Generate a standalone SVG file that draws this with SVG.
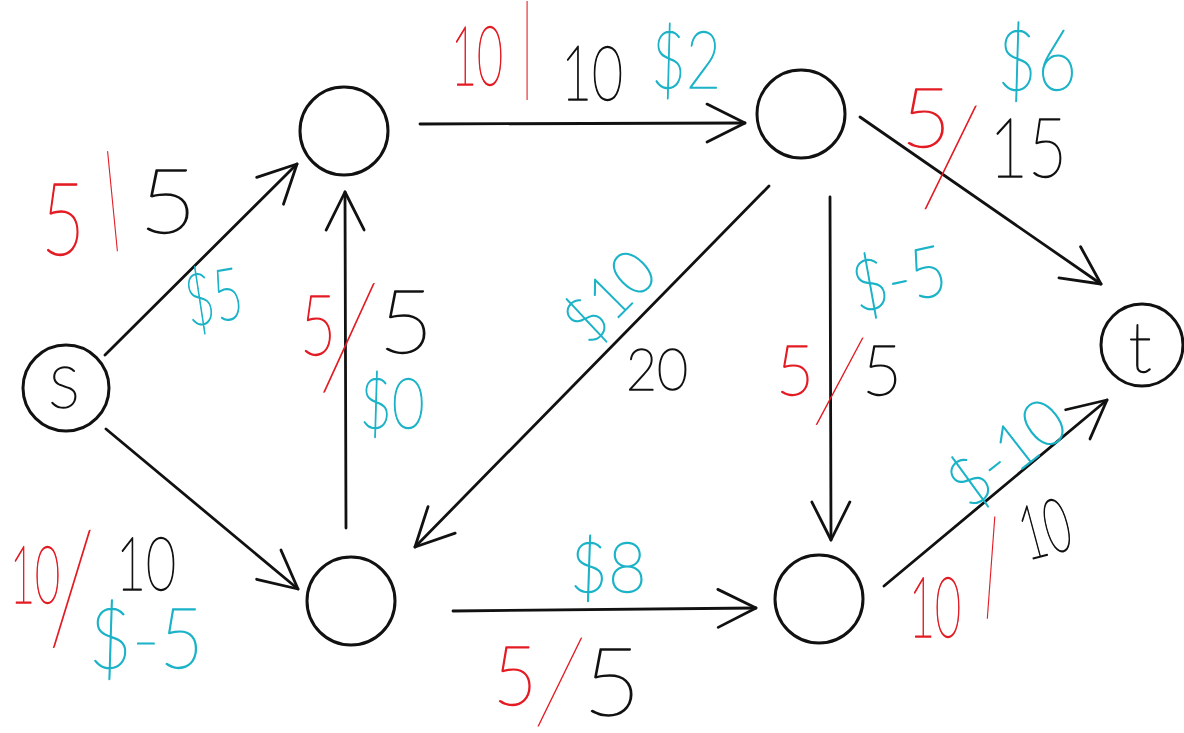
<svg xmlns="http://www.w3.org/2000/svg" width="1184" height="733" viewBox="0 0 1184 733">
<style>
  .node { fill: #ffffff; stroke: #111111; stroke-width: 3; }
  .edge { fill: none; stroke: #111111; stroke-width: 2.8; stroke-linecap: round; }
  .t { font-family: Lato, "Open Sans", "DejaVu Sans", sans-serif; font-weight: 200; text-anchor: middle; stroke-width: 1.4; stroke-linejoin: round; }
  .sl { font-family: Lato, "Open Sans", "DejaVu Sans", sans-serif; font-weight: 200; text-anchor: middle; dominant-baseline: central; }
  .r { fill: #e31b23; stroke: #e31b23; }
  .k { fill: #111111; stroke: #111111; }
  .c { fill: #1cb3c8; stroke: #1cb3c8; }
  .sl.r { stroke: none; }
</style>
<defs>
  <marker id="arr" markerUnits="userSpaceOnUse" markerWidth="60" markerHeight="60" viewBox="-50 -30 60 60" refX="0" refY="0" orient="auto">
    <path d="M -38,-19 L 0,0 L -38,19" fill="none" stroke="#111111" stroke-width="2.8" stroke-linecap="round" stroke-linejoin="round"/>
  </marker>
</defs>
<rect width="1184" height="733" fill="#ffffff"/>

<g id="connectors">
  <line class="edge" x1="105" y1="355" x2="297" y2="164" marker-end="url(#arr)"/>
  <line class="edge" x1="420" y1="124" x2="745" y2="123" marker-end="url(#arr)"/>
  <line class="edge" x1="860" y1="117" x2="1101" y2="284" marker-end="url(#arr)"/>
  <line class="edge" x1="769" y1="186" x2="415" y2="547" marker-end="url(#arr)"/>
  <line class="edge" x1="830" y1="197" x2="831" y2="540" marker-end="url(#arr)"/>
  <line class="edge" x1="346" y1="528" x2="345" y2="192" marker-end="url(#arr)"/>
  <line class="edge" x1="106" y1="429" x2="298" y2="589" marker-end="url(#arr)"/>
  <line class="edge" x1="453" y1="611" x2="756" y2="608" marker-end="url(#arr)"/>
  <line class="edge" x1="884" y1="586" x2="1107" y2="400" marker-end="url(#arr)"/>
</g>

<g id="node-s">
  <circle class="node" cx="66" cy="388" r="43"/>
  <text class="t k" x="64" y="408" font-size="58">S</text>
</g>
<g id="node-a">
  <circle class="node" cx="344" cy="131" r="44"/>
</g>
<g id="node-b">
  <circle class="node" cx="351" cy="601" r="44"/>
</g>
<g id="node-c">
  <circle class="node" cx="801" cy="114" r="44"/>
</g>
<g id="node-d">
  <circle class="node" cx="819" cy="599" r="44"/>
</g>
<g id="node-t">
  <circle class="node" cx="1142" cy="345" r="41"/>
  <text class="t k" x="1140" y="372" font-size="70">t</text>
</g>

<g id="labels">
  <!-- s -> A : 5|5 $5 -->
  <text class="t r" x="63" y="255" font-size="100" textLength="44" lengthAdjust="spacingAndGlyphs">5</text>
  <text class="sl r" font-size="108" transform="translate(111.5,190) rotate(-5.6)">|</text>
  <text class="t k" x="168" y="233" font-size="90" textLength="58" lengthAdjust="spacingAndGlyphs">5</text>
  <text class="t c" x="214" y="322" font-size="72" textLength="57" lengthAdjust="spacingAndGlyphs" transform="rotate(-10 214 300)">$5</text>

  <!-- B -> A : 5/5 $0 -->
  <text class="t r" x="318" y="355" font-size="85" textLength="36" lengthAdjust="spacingAndGlyphs">5</text>
  <text class="sl r" font-size="146" transform="translate(349,331) rotate(1.5)">/</text>
  <text class="t k" x="406" y="353" font-size="88" textLength="55" lengthAdjust="spacingAndGlyphs">5</text>
  <text class="t c" x="392" y="428" font-size="70" textLength="65" lengthAdjust="spacingAndGlyphs">$0</text>

  <!-- A -> C : 10|10 $2 -->
  <text class="t r" x="477" y="85" font-size="83" textLength="52" lengthAdjust="spacingAndGlyphs">10</text>
  <text class="sl r" font-size="106" transform="translate(527,40)">|</text>
  <text class="t k" x="592" y="100" font-size="76" textLength="62" lengthAdjust="spacingAndGlyphs">10</text>
  <text class="t c" x="686" y="88" font-size="80" textLength="70" lengthAdjust="spacingAndGlyphs">$2</text>

  <!-- C -> t : 5/15 $6 -->
  <text class="t c" x="1037" y="90" font-size="85" textLength="80" lengthAdjust="spacingAndGlyphs">$6</text>
  <text class="t r" x="926" y="147" font-size="83" textLength="50" lengthAdjust="spacingAndGlyphs">5</text>
  <text class="sl r" font-size="140" transform="translate(951,151) rotate(3)">/</text>
  <text class="t k" x="1028" y="177" font-size="83" textLength="78" lengthAdjust="spacingAndGlyphs">15</text>

  <!-- C -> B : $10 20 -->
  <text class="t c" x="0" y="22" font-size="62" textLength="100" lengthAdjust="spacingAndGlyphs" transform="translate(609,296) rotate(-45)">$10</text>
  <text class="t k" x="657" y="390" font-size="58" textLength="62" lengthAdjust="spacingAndGlyphs">20</text>

  <!-- C -> D : $-5 5/5 -->
  <text class="t c" x="899" y="303" font-size="70" textLength="95" lengthAdjust="spacingAndGlyphs" transform="rotate(-12 899 280)">$-5</text>
  <text class="t r" x="795" y="395" font-size="70" textLength="38" lengthAdjust="spacingAndGlyphs">5</text>
  <text class="sl r" font-size="120" transform="translate(840,376) rotate(5)">/</text>
  <text class="t k" x="882" y="395" font-size="70" textLength="40" lengthAdjust="spacingAndGlyphs">5</text>

  <!-- D -> t : $-10 10|10 -->
  <text class="t c" x="0" y="22" font-size="65" textLength="130" lengthAdjust="spacingAndGlyphs" transform="translate(1007,453) rotate(-38)">$-10</text>
  <text class="t r" x="935" y="637" font-size="85" textLength="52" lengthAdjust="spacingAndGlyphs">10</text>
  <text class="sl r" font-size="110" transform="translate(992,556) rotate(4.2)">|</text>
  <text class="t k" x="1045" y="555" font-size="75" textLength="50" lengthAdjust="spacingAndGlyphs" transform="rotate(-15 1045 530)">10</text>

  <!-- s -> B : 10/10 $-5 -->
  <text class="t r" x="35" y="603" font-size="80" textLength="50" lengthAdjust="spacingAndGlyphs">10</text>
  <text class="sl r" font-size="150" transform="translate(71,582) rotate(-6)">/</text>
  <text class="t k" x="146" y="590" font-size="74" textLength="60" lengthAdjust="spacingAndGlyphs">10</text>
  <text class="t c" x="146" y="668" font-size="85" textLength="115" lengthAdjust="spacingAndGlyphs">$-5</text>

  <!-- B -> D : $8 5/5 -->
  <text class="t c" x="608" y="592" font-size="70" textLength="77" lengthAdjust="spacingAndGlyphs">$8</text>
  <text class="t r" x="515" y="705" font-size="83" textLength="44" lengthAdjust="spacingAndGlyphs">5</text>
  <text class="sl r" font-size="120" transform="translate(560,677) rotate(3)">/</text>
  <text class="t k" x="612" y="715" font-size="94" textLength="58" lengthAdjust="spacingAndGlyphs">5</text>
</g>
</svg>
